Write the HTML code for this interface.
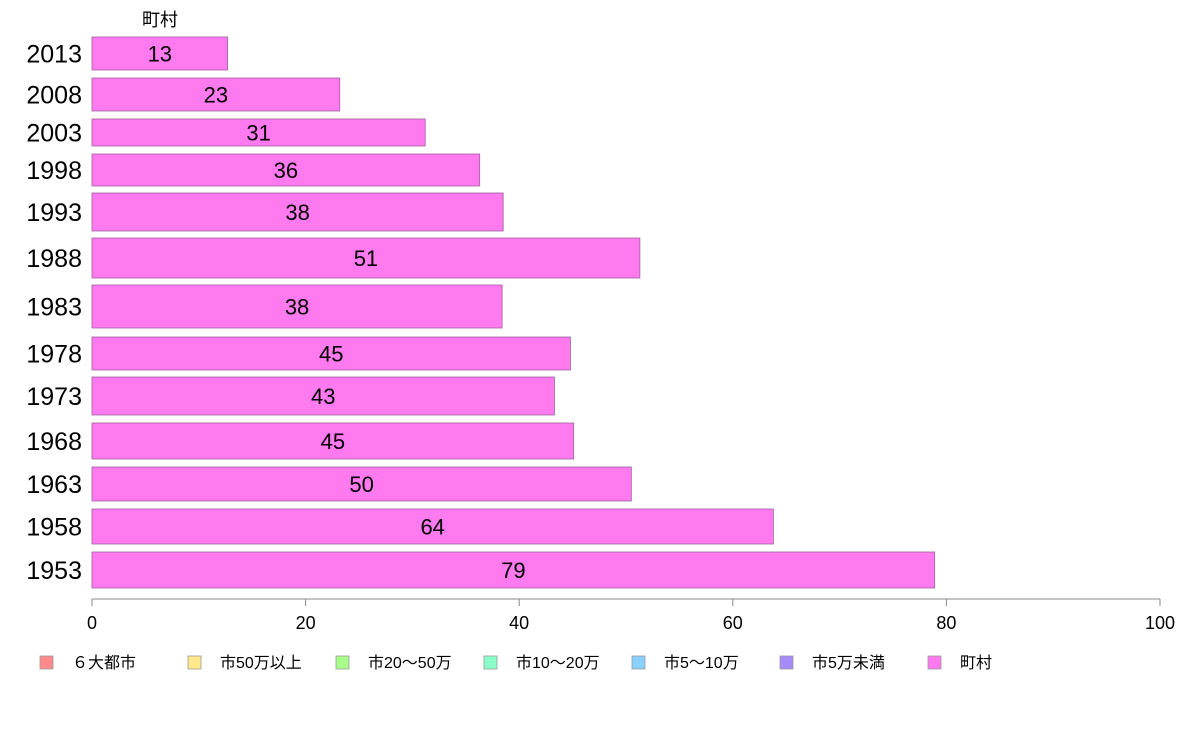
<!DOCTYPE html>
<html><head><meta charset="utf-8"><style>
body{margin:0;background:#fff;}
svg text{font-family:"Liberation Sans","Noto Sans CJK JP",sans-serif;}
</style></head><body>
<svg id="c" width="1188" height="736"></svg>
<script>
const years=["2013","2008","2003","1998","1993","1988","1983","1978","1973","1968","1963","1958","1953"];
const values=[12.7,23.2,31.2,36.3,38.5,51.3,38.4,44.8,43.3,45.1,50.5,63.8,78.9];
const labels=["13","23","31","36","38","51","38","45","43","45","50","64","79"];
const ticks=[0,20,40,60,80,100];
const legendNames=["６大都市","市50万以上","市20〜50万","市10〜20万","市5〜10万","市5万未満","町村"];
const legendColors=["#ff8a8a","#ffe98a","#a8ff8a","#8affc8","#8ad0ff","#a88aff","#ff7aee"];
const bandTop=[37,78,119,154,193,238,285,337,377,423,467,509,552];
const bandBot=[70,111,146,186,231,278,328,370,415,459,501,544,588];
const NS="http://www.w3.org/2000/svg";
const svg=document.getElementById('c');
const x=v=>92+v*10.68;
function mk(t,a,p){const e=document.createElementNS(NS,t);for(const k in a)e.setAttribute(k,a[k]);(p||svg).appendChild(e);return e;}
let t=mk('text',{x:160,y:26,'font-size':18,'text-anchor':'middle',fill:'#000'});


t.textContent='町村';
years.forEach((yr,i)=>{
  const y0=bandTop[i],y1=bandBot[i],cy=(y0+y1)/2;
  const r=mk('rect',{x:x(0),y:y0,width:x(values[i])-x(0),height:y1-y0,fill:'#ff7aee',stroke:'#a060a0','stroke-width':0.8});
  
  
  const l=mk('text',{x:(x(0)+x(values[i]))/2,y:cy+8,'font-size':22,'text-anchor':'middle',fill:'#000'});
  
  
  l.textContent=labels[i];
  const yl=mk('text',{x:82,y:cy+9,'font-size':25,'text-anchor':'end',fill:'#000'});
  
  
  yl.textContent=yr;
});
const ax=mk('line',{x1:x(0),x2:x(100),y1:599,y2:599,stroke:'#888','stroke-width':1});


ticks.forEach(v=>{
  const tk=mk('line',{x1:x(v),x2:x(v),y1:599,y2:606,stroke:'#888'});
  
  
  const tl=mk('text',{x:x(v),y:629,'font-size':18,'text-anchor':'middle',fill:'#000'});
  
  
  tl.textContent=v;
});
legendNames.forEach((n,i)=>{
  const lx=40+i*148;
  const g=mk('g',{});
  
  
  mk('rect',{x:lx,y:656,width:13,height:13,fill:legendColors[i],stroke:'#999','stroke-width':0.8},g);
  const tx=mk('text',{x:lx+32,y:668,'font-size':16,fill:'#000'},g);
  tx.textContent=n;
});
</script>
</body></html>
